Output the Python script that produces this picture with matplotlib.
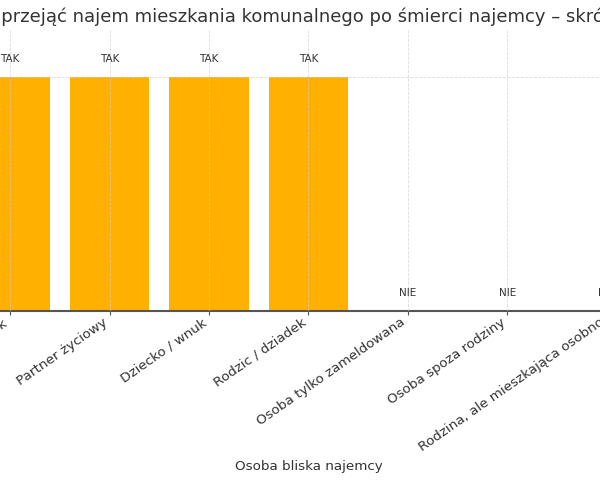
import matplotlib
matplotlib.use("Agg")
import matplotlib.pyplot as plt

plt.rcParams['font.family'] = ['DejaVu Sans']

title = "Kto może przejąć najem mieszkania komunalnego po śmierci najemcy – skrót"
categories = ["Małżonek", "Partner życiowy", "Dziecko / wnuk", "Rodzic / dziadek",
              "Osoba tylko zameldowana", "Osoba spoza rodziny",
              "Rodzina, ale mieszkająca osobno"]
values = [1, 1, 1, 1, 0, 0, 0]
value_labels = ["TAK", "TAK", "TAK", "TAK", "NIE", "NIE", "NIE"]
xlabel = "Osoba bliska najemcy"

fig = plt.figure(figsize=(6, 4.8), dpi=100)
ax = fig.add_axes([-0.106, 0.352, 1.2403, 0.585])

x = list(range(len(categories)))
ax.bar(x, values, width=0.8, color="#FFB000", zorder=1)
for xi, v, lab in zip(x, values, value_labels):
    ax.text(xi, v + 0.076, lab, ha="center", va="center", fontsize=7.5, color="#333333", zorder=3)

ax.set_xlim(-0.74, 6.74)
ax.set_ylim(0, 1.2)
ax.set_xticks(x)
ax.set_xticklabels(categories, rotation=35, ha="right", fontsize=9.7, color="#333333")
ax.set_yticks([0, 1])
ax.set_yticklabels(["NIE", "TAK"])
ax.set_xlabel(xlabel, fontsize=9.7, color="#333333", labelpad=4)

ax.grid(True, linestyle="--", linewidth=0.6, color="#cccccc", alpha=0.7, zorder=2)
ax.set_axisbelow(False)
for s in ["top", "right", "left"]:
    ax.spines[s].set_visible(False)
ax.spines["bottom"].set_color("#555555")
ax.spines["bottom"].set_linewidth(1.5)
ax.tick_params(axis="x", colors="#555555", labelcolor="#333333", length=3, pad=0.5)

fig.text(-0.149, 0.965, title, ha="left", va="center", fontsize=13, color="#333333")

fig.savefig("out.png", dpi=100)
